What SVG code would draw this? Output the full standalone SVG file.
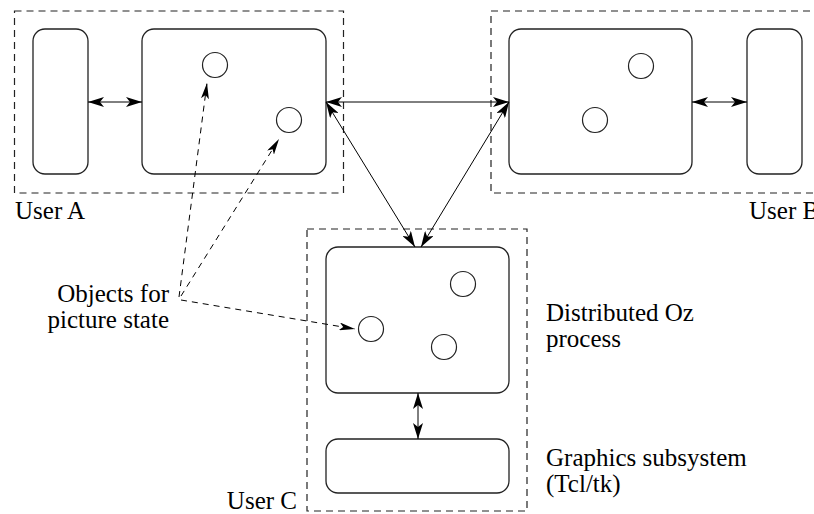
<svg xmlns="http://www.w3.org/2000/svg" width="814" height="514" viewBox="0 0 814 514">
  <defs>
    <marker id="head" markerUnits="userSpaceOnUse" markerWidth="16" markerHeight="10" viewBox="0 0 16 10" refX="16" refY="5" orient="auto-start-reverse">
      <path d="M0,0 L16,5 L0,10 L4,5 Z" fill="#000"/>
    </marker>
    <marker id="head-thin" markerUnits="userSpaceOnUse" markerWidth="16" markerHeight="8" viewBox="0 0 16 8" refX="16" refY="4" orient="auto">
      <path d="M0,0 L16,4 L0,8 L4,4 Z" fill="#000"/>
    </marker>
  </defs>
  <style>
    .site { fill: none; stroke: #222; stroke-width: 1.2; stroke-dasharray: 7 5; }
    .box { fill: #fff; stroke: #222; stroke-width: 1.3; }
    .obj { fill: #fff; stroke: #222; stroke-width: 1.2; }
    .link { fill: none; stroke: #000; stroke-width: 1; marker-start: url(#head); marker-end: url(#head); }
    .ref { fill: none; stroke: #000; stroke-width: 1; stroke-dasharray: 6 5; marker-end: url(#head-thin); }
    text { font-family: "Liberation Serif", "Times New Roman", serif; font-size: 25px; fill: #000; }
  </style>

  <rect width="814" height="514" fill="#fff"/>

  <!-- user sites (dashed outlines) -->
  <g id="site-a">
    <rect class="site" x="14.5" y="11" width="329" height="182"/>
    <text x="15" y="219">User A</text>
  </g>
  <g id="site-b">
    <rect class="site" x="491" y="11" width="340" height="182"/>
    <text x="749" y="219">User B</text>
  </g>
  <g id="site-c">
    <rect class="site" x="307" y="229" width="220" height="282"/>
    <text x="297" y="509" text-anchor="end">User C</text>
  </g>

  <!-- user A -->
  <g id="graphics-a">
    <rect class="box" x="33" y="29" width="55" height="145" rx="12"/>
  </g>
  <g id="process-a">
    <rect class="box" x="142" y="29" width="184" height="145" rx="12"/>
    <circle class="obj" cx="215" cy="65" r="12.5"/>
    <circle class="obj" cx="289" cy="120" r="12.5"/>
  </g>

  <!-- user B -->
  <g id="process-b">
    <rect class="box" x="509" y="29" width="183" height="145" rx="12"/>
    <circle class="obj" cx="641" cy="66" r="12.5"/>
    <circle class="obj" cx="595" cy="120" r="12.5"/>
  </g>
  <g id="graphics-b">
    <rect class="box" x="747" y="29" width="55" height="145" rx="12"/>
  </g>

  <!-- user C -->
  <g id="process-c">
    <rect class="box" x="326" y="247" width="183" height="146" rx="12"/>
    <circle class="obj" cx="463" cy="284" r="12.5"/>
    <circle class="obj" cx="371" cy="329" r="12.5"/>
    <circle class="obj" cx="444" cy="347" r="12.5"/>
  </g>
  <g id="graphics-c">
    <rect class="box" x="326" y="439" width="183" height="54" rx="12"/>
  </g>

  <!-- labels -->
  <g id="label-objects">
    <text x="169" y="302" text-anchor="end">Objects for</text>
    <text x="169" y="328" text-anchor="end">picture state</text>
  </g>
  <g id="label-process">
    <text x="546" y="321">Distributed Oz</text>
    <text x="546" y="347">process</text>
  </g>
  <g id="label-graphics">
    <text x="546" y="466">Graphics subsystem</text>
    <text x="546" y="492">(Tcl/tk)</text>
  </g>

  <!-- connectors -->
  <g id="connectors">
    <line class="link" x1="88" y1="102" x2="142" y2="102"/>
    <line class="link" x1="692" y1="102" x2="747" y2="102"/>
    <line class="link" x1="326" y1="102" x2="509" y2="102"/>
    <line class="link" x1="326" y1="102" x2="415" y2="247"/>
    <line class="link" x1="509" y1="102" x2="421" y2="247"/>
    <line class="link" x1="418" y1="393" x2="418" y2="439"/>
    <line class="ref" x1="179" y1="297" x2="207" y2="83"/>
    <line class="ref" x1="181" y1="296" x2="279" y2="139"/>
    <line class="ref" x1="181" y1="300" x2="355" y2="329"/>
  </g>
</svg>
